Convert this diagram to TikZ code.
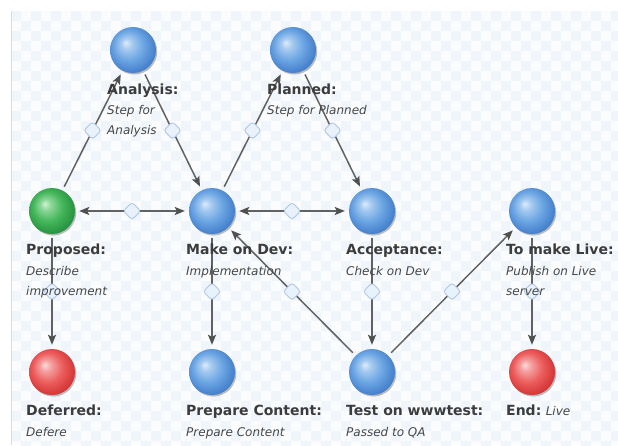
\documentclass[tikz,border=0pt]{standalone}
\usepackage{fontspec}
\setmainfont{DejaVu Sans}
\usetikzlibrary{shapes.geometric,arrows.meta,shadows}
\definecolor{bhl}{HTML}{DDEBFA}
\definecolor{bb1}{HTML}{A6CAF0}
\definecolor{bb2}{HTML}{6CA6E3}
\definecolor{bb3}{HTML}{4580CC}
\definecolor{bb4}{HTML}{3366B0}
\definecolor{ghl}{HTML}{D2F2D4}
\definecolor{gg1}{HTML}{8BD697}
\definecolor{gg2}{HTML}{45B75B}
\definecolor{gg3}{HTML}{279441}
\definecolor{gg4}{HTML}{1C7733}
\definecolor{rhl}{HTML}{FCDADA}
\definecolor{rr1}{HTML}{F5A0A0}
\definecolor{rr2}{HTML}{EC5E5E}
\definecolor{rr3}{HTML}{D63636}
\definecolor{rr4}{HTML}{B82424}
\definecolor{chkA}{HTML}{EFF5FB}
\definecolor{chkB}{HTML}{FAFCFE}
\definecolor{edgecol}{HTML}{626262}
\definecolor{tipcol}{HTML}{505050}
\definecolor{diafill}{HTML}{E9F1FA}
\definecolor{diadraw}{HTML}{B0C8E6}
\definecolor{titlecol}{HTML}{3C3C3C}
\definecolor{subcol}{HTML}{474747}
\pgfdeclareradialshading{blueball}{\pgfpoint{-8bp}{8bp}}{color(0bp)=(bhl); color(6bp)=(bb1); color(16bp)=(bb2); color(27bp)=(bb3); color(40bp)=(bb4)}
\pgfdeclareradialshading{greenball}{\pgfpoint{-8bp}{8bp}}{color(0bp)=(ghl); color(6bp)=(gg1); color(16bp)=(gg2); color(27bp)=(gg3); color(40bp)=(gg4)}
\pgfdeclareradialshading{redball}{\pgfpoint{-8bp}{8bp}}{color(0bp)=(rhl); color(6bp)=(rr1); color(16bp)=(rr2); color(27bp)=(rr3); color(40bp)=(rr4)}
\tikzset{
  state/.style={circle, minimum size=46pt, inner sep=0pt, draw=none,
    drop shadow={shadow xshift=1.2pt, shadow yshift=-1.5pt, opacity=0.25, fill=black}},
  bstate/.style={state, shading=blueball},
  gstate/.style={state, shading=greenball},
  rstate/.style={state, shading=redball},
  edge/.style={draw=edgecol, line width=1.5pt, shorten <=4pt, shorten >=4pt},
  tip/.style={-{Stealth[length=10pt,width=8pt,inset=2pt,color=tipcol]}},
  bitip/.style={{Stealth[length=10pt,width=8pt,inset=2pt,color=tipcol]}-{Stealth[length=10pt,width=8pt,inset=2pt,color=tipcol]}},
  dia/.style={diamond, minimum size=18pt, inner sep=0pt, fill=diafill, draw=diadraw, line width=0.9pt, rounded corners=3pt},
  ttl/.style={anchor=base west, inner sep=0pt, text=titlecol, font=\fontsize{14}{16}\selectfont\bfseries},
  sub/.style={anchor=base west, inner sep=0pt, text=subcol, font=\fontsize{12}{14}\selectfont\itshape}
}
\begin{document}
\begin{tikzpicture}[x=1pt,y=-1pt]
\useasboundingbox (0,0) rectangle (618,445);
\clip (0,0) rectangle (618,445);
\fill[white] (0,0) rectangle (618,445);
% checkered background
\begin{scope}
\clip (11,11) rectangle (618,445);
\fill[chkB] (11,11) rectangle (618,445);
\foreach \j in {0,...,43}{
  \foreach \i in {0,...,30}{
    \pgfmathsetmacro\xx{11+10*(2*\i+mod(\j,2))}
    \pgfmathsetmacro\yy{11+10*\j}
    \fill[chkA] (\xx,\yy) rectangle ++(10,10);
  }
}
\end{scope}
\draw[diadraw!60, line width=0.6pt] (11.3,11) -- (11.3,445);
% states
\node[bstate] (A)  at (133,50)  {};
\node[bstate] (Pl) at (293,50)  {};
\node[gstate] (P)  at (52,211)  {};
\node[bstate] (M)  at (212,211) {};
\node[bstate] (Ac) at (372,211) {};
\node[bstate] (L)  at (532,211) {};
\node[rstate] (D)  at (52,372)  {};
\node[bstate] (C)  at (212,372) {};
\node[bstate] (T)  at (372,372) {};
\node[rstate] (E)  at (532,372) {};
% connectors
\draw[edge,tip]   (P)  -- node[dia] (d1) {} (A);
\draw[edge,tip]   (A)  -- node[dia] (d2) {} (M);
\draw[edge,tip]   (M)  -- node[dia] (d3) {} (Pl);
\draw[edge,tip]   (Pl) -- node[dia] (d4) {} (Ac);
\draw[edge,bitip] (P)  -- node[dia] (d5) {} (M);
\draw[edge,bitip] (M)  -- node[dia] (d6) {} (Ac);
\draw[edge,tip]   (P)  -- node[dia] (d7) {} (D);
\draw[edge,tip]   (M)  -- node[dia] (d8) {} (C);
\draw[edge,tip]   (Ac) -- node[dia] (d9) {} (T);
\draw[edge,tip]   (T)  -- node[dia] (d10) {} (M);
\draw[edge,tip]   (T)  -- node[dia] (d11) {} (L);
\draw[edge,tip]   (L)  -- node[dia] (d12) {} (E);
% labels
\node[ttl] (tA) at (107,94) {Analysis:};
\node[sub] (sA1) at (107,114) {Step for};
\node[sub] (sA2) at (107,134) {Analysis};
\node[ttl] (tPl) at (267,94) {Planned:};
\node[sub] (sPl1) at (267,114) {Step for Planned};
\node[ttl] (tP) at (26,254) {Proposed:};
\node[sub] (sP1) at (26,275) {Describe};
\node[sub] (sP2) at (26,295) {improvement};
\node[ttl] (tM) at (186,254) {Make on Dev:};
\node[sub] (sM1) at (186,275) {Implementation};
\node[ttl] (tAc) at (346,254) {Acceptance:};
\node[sub] (sAc1) at (346,275) {Check on Dev};
\node[ttl] (tL) at (506,254) {To make Live:};
\node[sub] (sL1) at (506,275) {Publish on Live};
\node[sub] (sL2) at (506,295) {server};
\node[ttl] (tD) at (26,415) {Deferred:};
\node[sub] (sD1) at (26,436) {Defere};
\node[ttl] (tC) at (186,415) {Prepare Content:};
\node[sub] (sC1) at (186,436) {Prepare Content};
\node[ttl] (tT) at (346,415) {Test on wwwtest:};
\node[sub] (sT1) at (346,436) {Passed to QA};
\node[ttl] (tE) at (506,415) {End:};
\node[sub] (sE1) at (tE.base east) [xshift=4pt] {Live};
\end{tikzpicture}
\end{document}
